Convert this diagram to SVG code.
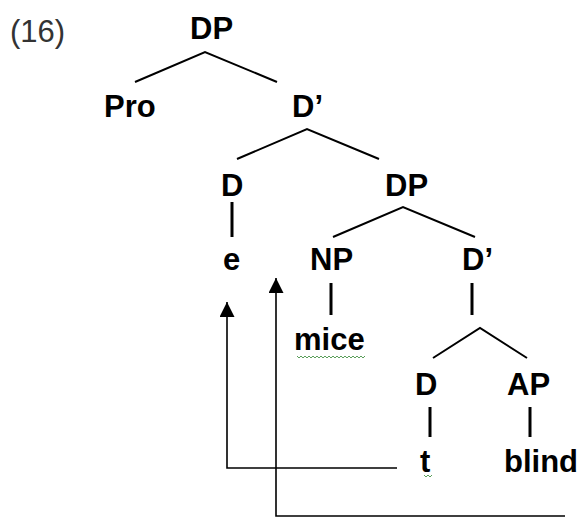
<svg xmlns="http://www.w3.org/2000/svg" width="584" height="518" viewBox="0 0 584 518">
<style>
.lbl{font-family:"Liberation Sans",Arial,sans-serif;font-weight:bold;font-size:31px;fill:#000}
.num{font-family:"Liberation Sans",Arial,sans-serif;font-size:31px;fill:#333}
.edge{stroke:#000;stroke-width:2;fill:none}
.bar{stroke:#000;stroke-width:3;fill:none}
.arr{stroke:#000;stroke-width:1.6;fill:none}
.wavy{stroke:#5a9e5a;stroke-width:1;fill:none}
</style>
<defs>
<marker id="ah" viewBox="0 0 10 10" refX="10" refY="5" markerWidth="16" markerHeight="15" markerUnits="userSpaceOnUse" orient="auto">
<path d="M0,0 L10,5 L0,10 Z" fill="#000"/>
</marker>
</defs>
<rect width="584" height="518" fill="#fff"/>
<text class="num" x="10" y="42">(16)</text>
<g id="connectors">
<path class="edge" d="M135,82 L205,52 L277,82"/>
<path class="edge" d="M237,159 L307,129 L379,159"/>
<path class="bar" d="M232,202 V237"/>
<path class="edge" d="M333,237 L403,207 L475,237"/>
<path class="bar" d="M331,283 V315"/>
<path class="bar" d="M472,283 V315"/>
<path class="edge" d="M433,358 L480,328 L527,358"/>
<path class="bar" d="M430,407 V437"/>
<path class="bar" d="M530,407 V437"/>
<path class="arr" d="M397,468 H227 V302" marker-end="url(#ah)"/>
<path class="arr" d="M565,516 H276 V278" marker-end="url(#ah)"/>
</g>
<g id="n-dp1"><text class="lbl" x="190" y="39">DP</text></g>
<g id="n-pro"><text class="lbl" x="104" y="117">Pro</text></g>
<g id="n-dbar1"><text class="lbl" x="292" y="117">D’</text></g>
<g id="n-d1"><text class="lbl" x="221" y="196">D</text></g>
<g id="n-dp2"><text class="lbl" x="385" y="196">DP</text></g>
<g id="n-e"><text class="lbl" x="223" y="270">e</text></g>
<g id="n-np"><text class="lbl" x="310" y="270">NP</text></g>
<g id="n-dbar2"><text class="lbl" x="462" y="270">D’</text></g>
<g id="n-mice"><text class="lbl" x="294" y="350">mice</text>
<path class="wavy" d="M297,356 l2,2 l2,-2 l2,2 l2,-2 l2,2 l2,-2 l2,2 l2,-2 l2,2 l2,-2 l2,2 l2,-2 l2,2 l2,-2 l2,2 l2,-2 l2,2 l2,-2 l2,2 l2,-2 l2,2 l2,-2 l2,2 l2,-2 l2,2 l2,-2 l2,2 l2,-2 l2,2 l2,-2 l2,2 l2,-2 l2,2 l2,-2"/></g>
<g id="n-d2"><text class="lbl" x="415" y="395">D</text></g>
<g id="n-ap"><text class="lbl" x="507" y="395">AP</text></g>
<g id="n-t"><text class="lbl" x="420" y="472">t</text>
<path class="wavy" d="M424,475 l2,2 l2,-2 l2,2 l2,-2"/></g>
<g id="n-blind"><text class="lbl" x="504" y="472">blind</text></g>
</svg>
